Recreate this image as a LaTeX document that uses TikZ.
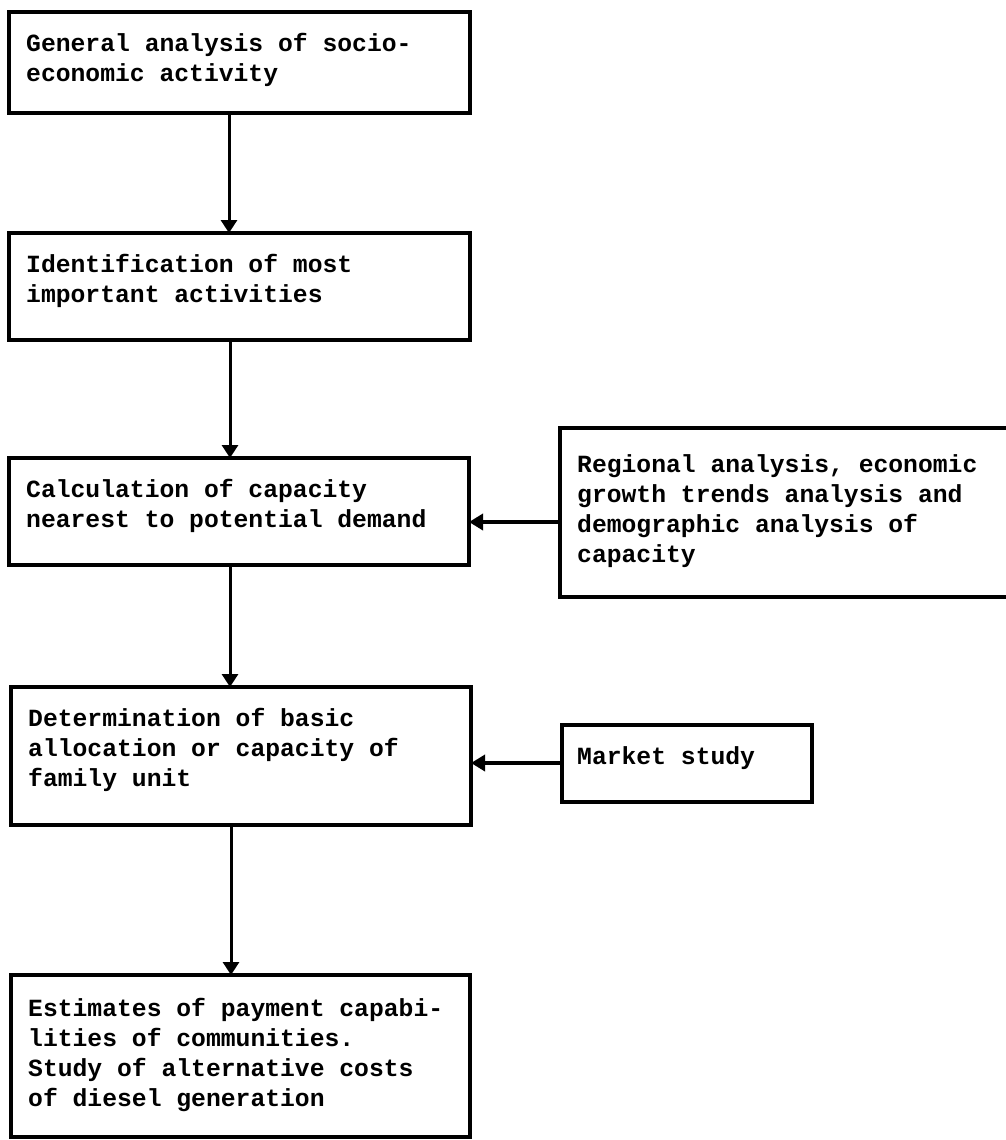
\documentclass[tikz,border=0pt]{standalone}
\usepackage{fontspec}
\newfontfamily\typew{Liberation Mono}
\usetikzlibrary{arrows.meta,calc}
\begin{document}
\begin{tikzpicture}[x=1pt,y=-1pt,
  box/.style n args={2}{draw, line width=3.5pt, anchor=north west, inner sep=0pt, outer sep=0pt, minimum width=#1, minimum height=#2},
  txt/.style={anchor=north west, inner sep=0pt, align=left, font=\typew\bfseries\fontsize{24.7}{30}\selectfont},
  varr/.style={line width=3pt, -{Triangle[width=16pt,length=13pt]}},
  harr/.style={line width=4.5pt, -{Triangle[width=16pt,length=14pt]}}]
\fill[white] (0,0) rectangle (1006,1140);
\useasboundingbox (0,0) rectangle (1006,1140);
% boxes
\node[box={461pt}{101pt}] (b1) at (9,12) {};
\node[box={461pt}{107pt}] (b2) at (9,233) {};
\node[box={460pt}{107pt}] (b3) at (9,458) {};
\node[box={460pt}{138pt}] (b4) at (11,687) {};
\node[box={459pt}{162pt}] (b5) at (11,975) {};
\node[box={450pt}{169pt}] (r1) at (560,428) {};
\node[box={250pt}{77pt}] (m) at (562,725) {};
% texts
\node[txt] (t1) at ([xshift=17pt,yshift=-17pt]b1.north west) {\rule{0pt}{22pt}General analysis of socio-\\economic activity};
\node[txt] (t2) at ([xshift=17pt,yshift=-17pt]b2.north west) {\rule{0pt}{22pt}Identification of most\\important activities};
\node[txt] (t3) at ([xshift=17pt,yshift=-17pt]b3.north west) {\rule{0pt}{22pt}Calculation of capacity\\nearest to potential demand};
\node[txt] (t4) at ([xshift=17pt,yshift=-17pt]b4.north west) {\rule{0pt}{22pt}Determination of basic\\allocation or capacity of\\family unit};
\node[txt] (t5) at ([xshift=17pt,yshift=-19pt]b5.north west) {\rule{0pt}{22pt}Estimates of payment capabi-\\lities of communities.\\Study of alternative costs\\of diesel generation};
\node[txt] (tr) at ([xshift=17pt,yshift=-22pt]r1.north west) {\rule{0pt}{22pt}Regional analysis, economic\\growth trends analysis and\\demographic analysis of\\capacity};
\node[txt] (tm) at ([xshift=15pt,yshift=-17pt]m.north west) {\rule{0pt}{22pt}Market study};
% connectors
\draw[varr] ([xshift=220pt]b1.south west) -- ([xshift=220pt]b1.south west |- b2.north);
\draw[varr] ([xshift=221pt]b2.south west) -- ([xshift=221pt]b2.south west |- b3.north);
\draw[varr] ([xshift=221pt]b3.south west) -- ([xshift=221pt]b3.south west |- b4.north);
\draw[varr] ([xshift=220pt]b4.south west) -- ([xshift=220pt]b4.south west |- b5.north);
\draw[harr] ([yshift=-94pt]r1.north west) -- ([yshift=-94pt]r1.north west -| b3.east);
\draw[harr] ([yshift=-38pt]m.north west) -- ([yshift=-38pt]m.north west -| b4.east);
\end{tikzpicture}
\end{document}
